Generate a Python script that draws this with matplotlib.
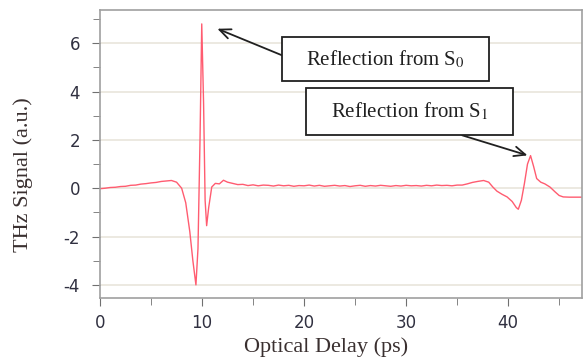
import numpy as np
import matplotlib.pyplot as plt
from matplotlib.ticker import MultipleLocator
from matplotlib.patches import Rectangle

# optical delay (ps) and THz signal (a.u.)
delay = [0, 0.5, 1, 1.5, 2, 2.5, 3, 3.5, 4, 4.5, 5, 5.5, 6, 6.5, 7, 7.5, 8,
         8.4, 8.8, 9.1, 9.4, 9.6, 9.8, 9.97, 10.15, 10.3, 10.45, 10.65, 10.95,
         11.3, 11.7, 12.1, 12.5, 13, 13.5, 14, 14.5, 15, 15.5, 16, 16.5, 17,
         17.5, 18, 18.5, 19, 19.5, 20, 20.5, 21, 21.5, 22, 22.5, 23, 23.5, 24,
         24.5, 25, 25.5, 26, 26.5, 27, 27.5, 28, 28.5, 29, 29.5, 30, 30.5, 31,
         31.5, 32, 32.5, 33, 33.5, 34, 34.5, 35, 35.5, 36, 36.5, 37, 37.6,
         38.1, 38.5, 38.9, 39.4, 39.9, 40.4, 40.8, 41.0, 41.3, 41.6, 41.9,
         42.2, 42.5, 42.8, 43.2, 43.6, 44.1, 44.6, 45.0, 45.4, 46, 46.6, 47.25]
signal = [-0.02, 0.0, 0.03, 0.04, 0.07, 0.08, 0.12, 0.13, 0.17, 0.19, 0.22,
          0.24, 0.28, 0.3, 0.32, 0.25, 0.0,
          -0.6, -1.8, -3.0, -4.0, -2.5, 2.0, 6.8, 3.5, -0.5, -1.55, -0.8, 0.05,
          0.2, 0.18, 0.33, 0.25, 0.2, 0.15, 0.16, 0.11, 0.14, 0.1, 0.13, 0.12,
          0.09, 0.13, 0.1, 0.12, 0.08, 0.11, 0.1, 0.13, 0.09, 0.12, 0.08, 0.1,
          0.12, 0.09, 0.11, 0.07, 0.1, 0.12, 0.08, 0.11, 0.09, 0.12, 0.1, 0.08,
          0.11, 0.09, 0.12, 0.1, 0.11, 0.09, 0.12, 0.1, 0.13, 0.11, 0.12, 0.1,
          0.13, 0.13, 0.18, 0.24, 0.28, 0.32,
          0.25, 0.05, -0.12, -0.25, -0.36, -0.55, -0.8, -0.87, -0.5, 0.2, 1.0,
          1.35, 0.9, 0.4, 0.25, 0.18, 0.05, -0.15, -0.3, -0.36, -0.37, -0.37,
          -0.37]

labels = [r'Reflection from S$_0$', r'Reflection from S$_1$']
peaks = [(11.5, 6.6), (41.9, 1.36)]

plt.rcParams['mathtext.fontset'] = 'stix'
plt.rcParams['axes.unicode_minus'] = False

fig = plt.figure(figsize=(5.85, 3.62), dpi=100)
ax = fig.add_axes([0.171, 0.177, 0.824, 0.795])

ax.plot(delay, signal, color='#ff5c70', lw=1.0)

ax.set_xlim(0, 47.25)
ax.set_ylim(-4.54, 7.37)
ax.xaxis.set_major_locator(MultipleLocator(10))
ax.xaxis.set_minor_locator(MultipleLocator(5))
ax.yaxis.set_major_locator(MultipleLocator(2))
ax.yaxis.set_minor_locator(MultipleLocator(1))
ax.grid(axis='y', which='major', color='#e9e5dc', lw=1.2)
ax.set_axisbelow(True)
for s in ax.spines.values():
    s.set_color('#a0a0a0')
    s.set_linewidth(1.2)
ax.tick_params(which='both', direction='out', color='#707070', labelsize=12,
               labelcolor='#303040')
ax.tick_params(axis='y', which='major', length=5.5, pad=9)
ax.tick_params(axis='y', which='minor', length=5)
ax.tick_params(axis='x', which='major', length=5.5, pad=6)
ax.tick_params(axis='x', which='minor', length=5)

ax.set_xlabel('Optical Delay (ps)', family='Liberation Serif', fontsize=16,
              color='#3a3030')
ax.set_ylabel('THz Signal (a.u.)', family='Liberation Serif', fontsize=16,
              color='#3a3030')
ax.xaxis.set_label_coords(0.469, -0.135)
ax.yaxis.set_label_coords(-0.139, 0.427)

# annotation boxes (data coords) and arrows
boxes = [(17.84, 4.42, 20.3, 1.82), (20.2, 2.19, 20.3, 1.94)]
tails = [(17.84, 5.5), (35.5, 2.19)]
for lab, (bx, by, bw, bh), tail, head in zip(labels, boxes, tails, peaks):
    ax.add_patch(Rectangle((bx, by), bw, bh, fc='white', ec='#202020',
                           lw=1.3, zorder=5))
    ax.text(bx + bw / 2, by + bh / 2, lab, ha='center', va='center',
            fontsize=15, family='Liberation Serif', color='#202020', zorder=6)
    ax.annotate('', xy=head, xytext=tail,
                arrowprops=dict(arrowstyle='->,head_width=0.35,head_length=0.8',
                                color='#202020', lw=1.3, shrinkA=0, shrinkB=0))

fig.savefig('out.png', dpi=100)
